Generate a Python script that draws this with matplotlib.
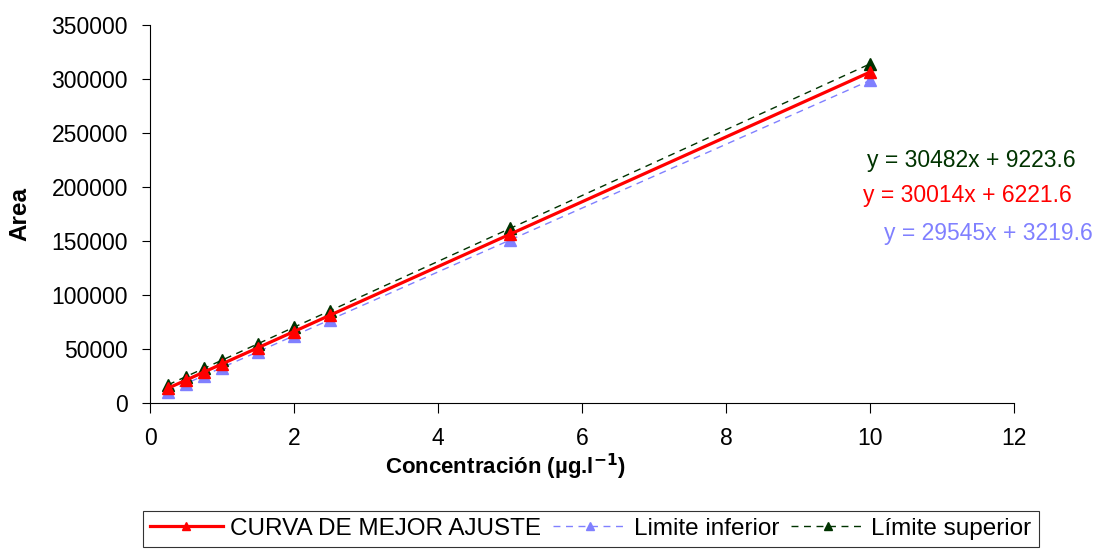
import matplotlib
matplotlib.use("Agg")
import matplotlib.pyplot as plt

plt.rcParams['font.family'] = ['Liberation Sans', 'DejaVu Sans']

# concentrations (ug/l) and peak areas
conc = [0.25, 0.5, 0.75, 1.0, 1.5, 2.0, 2.5, 5.0, 10.0]
area_best = [13700, 21200, 28700, 36200, 51200, 66200, 81300, 156300, 306400]
area_low = [10600, 18000, 25400, 32800, 47500, 62300, 77100, 150900, 298700]
area_high = [16800, 24500, 32100, 39700, 54900, 70200, 85400, 161600, 314000]

eq_high = "y = 30482x + 9223.6"
eq_best = "y = 30014x + 6221.6"
eq_low = "y = 29545x + 3219.6"

c_red = '#FF0000'
c_low = '#8080FF'
c_high = '#003300'

fig = plt.figure(figsize=(10.96, 5.51), dpi=100)
ax = fig.add_axes([0.1369, 0.2686, 0.7883, 0.686])

ax.plot(conc, area_low, color=c_low, lw=1.0, ls=(0, (5, 4)), marker='^', ms=8,
        label='Limite inferior')
ax.plot(conc, area_high, color=c_high, lw=1.0, ls=(0, (5, 4)), marker='^', ms=8,
        label='Límite superior')
ax.plot(conc, area_best, color=c_red, lw=2.3, marker='^', ms=8,
        label='CURVA DE MEJOR AJUSTE')

ax.set_xlim(0, 12)
ax.set_ylim(0, 350000)
ax.set_xticks(range(0, 13, 2))
ax.set_yticks(range(0, 350001, 50000))
ax.spines['top'].set_visible(False)
ax.spines['right'].set_visible(False)
ax.tick_params(direction='out', colors='black')
ax.tick_params(axis='y', length=6, labelsize=16.5, pad=10)
ax.tick_params(axis='x', length=7, labelsize=16.5, pad=10)

ax.set_ylabel('Area', fontsize=17.5, fontweight='bold')
ax.yaxis.set_label_coords(-0.137, 0.5)
ax.set_xlabel('Concentración (µg.l$^{\\mathbf{-1}}$)', fontsize=16, fontweight='bold')
ax.xaxis.set_label_coords(0.412, -0.13)

fig.text(0.981, 0.7096, eq_high, color=c_high, fontsize=16.5, ha='right', va='center')
fig.text(0.978, 0.646, eq_best, color=c_red, fontsize=16.5, ha='right', va='center')
fig.text(0.997, 0.577, eq_low, color=c_low, fontsize=16.5, ha='right', va='center')

handles, labels = ax.get_legend_handles_labels()
order = [2, 0, 1]
leg = fig.legend([handles[i] for i in order], [labels[i] for i in order],
                 loc='center', bbox_to_anchor=(0.539, 0.040), ncol=3,
                 fontsize=17.5, frameon=True, fancybox=False, edgecolor='black',
                 handlelength=3.0, handletextpad=0.3, columnspacing=0.5,
                 borderpad=0.3, borderaxespad=0, markerscale=0.7)
leg.get_frame().set_linewidth(0.8)

fig.savefig('out.png', dpi=100)
